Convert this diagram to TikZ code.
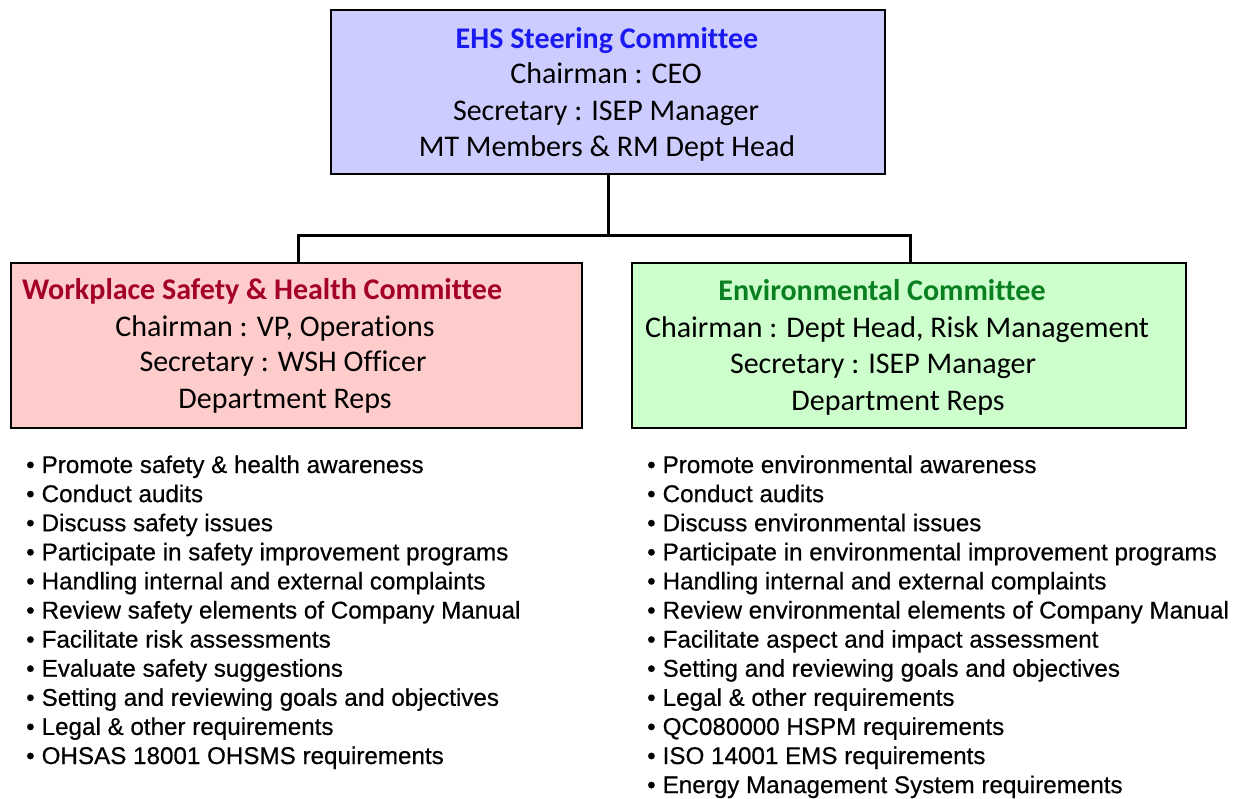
\documentclass[tikz,border=0pt]{standalone}
\usepackage{fontspec}
\setmainfont[Ligatures=NoCommon]{Carlito}
\newfontfamily\listfont[FakeBold=0.5]{Liberation Sans}
\begin{document}
\begin{tikzpicture}[x=1pt,y=-1pt,
  box/.style={draw=black,line width=2.2pt},
  conn/.style={draw=black,line width=3pt},
  btxt/.style={anchor=base,inner sep=0pt,font=\fontsize{30}{36}\selectfont},
  ttl/.style={btxt,font=\fontsize{30}{36}\selectfont\bfseries},
  item/.style={anchor=base west,inner sep=0pt,font=\listfont\fontsize{24.2}{29}\selectfont}
]
\definecolor{topfill}{HTML}{CCCCFF}
\definecolor{leftfill}{HTML}{FFCCCC}
\definecolor{rightfill}{HTML}{CCFFCC}
\definecolor{ttlblue}{HTML}{1A1AF0}
\definecolor{ttlred}{HTML}{A3002A}
\definecolor{ttlgreen}{HTML}{0A8020}
\useasboundingbox (0,0) rectangle (1239,798);
\fill[white] (0,0) rectangle (1239,798);

% boxes
\path[box,fill=topfill] (331,10) rectangle (885,174);
\coordinate (topS) at (608,174);
\path[box,fill=leftfill] (11,263) rectangle (582,428);
\coordinate (leftN) at (298,263);
\path[box,fill=rightfill] (632,263) rectangle (1186,428);
\coordinate (rightN) at (910,263);
\coordinate (junc) at (608,235);

% connectors
\draw[conn] (topS) -- (junc);
\draw[conn] (leftN) |- (junc) -| (rightN);

% top box text
\node[ttl,text=ttlblue] (t0) at (607,48) {EHS Steering Committee};
\node[btxt] (t1) at (606,83) {Chairman : CEO};
\node[btxt] (t2) at (606,120) {Secretary : ISEP Manager};
\node[btxt] (t3) at (607,156) {MT Members \& RM Dept Head};

% left box text
\node[ttl,text=ttlred,anchor=base west] (l0) at (22,299) {Workplace Safety \& Health Committee};
\node[btxt] (l1) at (275,336) {Chairman : VP, Operations};
\node[btxt] (l2) at (283,371) {Secretary : WSH Officer};
\node[btxt] (l3) at (285,408) {Department Reps};

% right box text
\node[ttl,text=ttlgreen] (r0) at (882,300) {Environmental Committee};
\node[btxt] (r1) at (897,337) {Chairman : Dept Head, Risk Management};
\node[btxt] (r2) at (883,373) {Secretary : ISEP Manager};
\node[btxt] (r3) at (898,410) {Department Reps};

% left list
\foreach \t [count=\i from 0] in {
  Promote safety \& health awareness,
  Conduct audits,
  Discuss safety issues,
  Participate in safety improvement programs,
  Handling internal and external complaints,
  Review safety elements of Company Manual,
  Facilitate risk assessments,
  Evaluate safety suggestions,
  Setting and reviewing goals and objectives,
  Legal \& other requirements,
  OHSAS 18001 OHSMS requirements}{
  \node[item] (L\i) at (26,473+29.1*\i) {\textbullet\hspace{7pt}\t};
}
% right list
\foreach \t [count=\i from 0] in {
  Promote environmental awareness,
  Conduct audits,
  Discuss environmental issues,
  Participate in environmental improvement programs,
  Handling internal and external complaints,
  Review environmental elements of Company Manual,
  Facilitate aspect and impact assessment,
  Setting and reviewing goals and objectives,
  Legal \& other requirements,
  QC080000 HSPM requirements,
  ISO 14001 EMS requirements,
  Energy Management System requirements}{
  \node[item] (R\i) at (647,473+29.1*\i) {\textbullet\hspace{7pt}\t};
}
\end{tikzpicture}
\end{document}
